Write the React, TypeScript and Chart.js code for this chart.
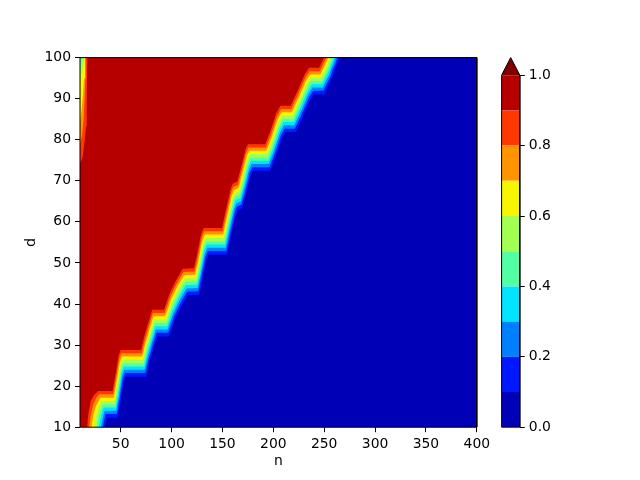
import React, { useEffect, useRef } from "react";
import { Chart, registerables } from "chart.js";

Chart.register(...registerables);

// ---------------- data ----------------
const xTicks = [50, 100, 150, 200, 250, 300, 350, 400];
const yTicks = [10, 20, 30, 40, 50, 60, 70, 80, 90, 100];
const cbTicks = [0.0, 0.2, 0.4, 0.6, 0.8, 1.0];
const levels = [0, 0.1, 0.2, 0.3, 0.4, 0.5, 0.6, 0.7, 0.8, 0.9, 1.0];
// jet colours of the filled bands 0-0.1 ... 0.9-1.0
const bandColors = [
  "#0000b6", "#0018ff", "#0080ff", "#00e4ff", "#53ffa4",
  "#a4ff53", "#f8f500", "#ff9400", "#ff3800", "#b60000",
];
const overColor = "#800000";

// staircase of the 0.9 contour (n, d), from the end of the first plateau onwards
const stairN = [42, 45, 48, 50, 70, 73, 79, 81, 92.5, 98, 104, 111, 122, 125, 129, 131.5,
  149.5, 153, 158, 160, 164.5, 168, 172.5, 175, 192, 197, 203, 207, 217, 224, 231, 235,
  245, 251, 258, 262, 290];
const stairD = [18.8, 23, 27.5, 28.8, 28.8, 32, 37, 38.6, 38.6, 42.5, 45.6, 48.6, 48.7, 52, 57, 58.5,
  58.5, 62.5, 68, 69.3, 69.8, 73, 77.5, 78.9, 78.9, 82, 86.5, 88.3, 88.3, 92, 96, 97.5,
  97.5, 100.5, 105, 107.5, 107.5];

// contour levels and how far each lies below (d) and right (n) of the 0.9 contour
const contourLevels = [0.9, 0.8, 0.7, 0.6, 0.5, 0.4, 0.3, 0.2, 0.1];
const levelDrop = [0, 0.8, 1.6, 2.4, 3.2, 4.0, 4.8, 5.6, 6.5];
const levelShift = [0, 0.6, 1.2, 1.8, 2.4, 3.0, 3.6, 4.2, 5.0];

// lower-left foot of every contour, from d = 10 up to the first plateau
const footN = [
  [17, 18.2, 20.5, 24, 28],
  [19, 20.5, 23, 26, 29],
  [21.5, 23, 25.5, 30],
  [24, 25.5, 28, 31],
  [26.5, 28, 30.5, 32],
  [28.5, 30, 33],
  [30.5, 32, 34],
  [32.5, 33.5, 35],
  [34.5, 35.5, 36],
];
const footD = [
  [10, 13.3, 16.4, 17.9, 18.8],
  [10, 13, 15.6, 17.2, 18.0],
  [10, 12.8, 15, 17.2],
  [10, 12.5, 14.8, 16.4],
  [10, 12.3, 14.4, 15.6],
  [10, 12, 14.8],
  [10, 11.8, 14.0],
  [10, 11.5, 13.2],
  [10, 11.2, 12.3],
];

// patches at the upper-left edge (n near 10, large d) where the value falls below a level
const edgeLevels = [0.9, 0.8, 0.7, 0.6, 0.5];
const edgeN = [
  [10, 12.3, 13.2, 14.9, 15.9, 16.6, 17.2, 10],
  [10, 12, 13.5, 14.5, 15.2, 15.6, 10],
  [10, 11.5, 13, 14, 14.9, 10],
  [10, 11.5, 13, 13.9, 10],
  [10, 11.5, 12.3, 10],
];
const edgeD = [
  [74.3, 75.5, 77, 80.4, 83.2, 88.9, 100, 100],
  [79, 81, 85, 90, 95, 100, 100],
  [84.4, 87, 91, 95, 100, 100],
  [94.5, 96, 98, 100, 100],
  [97.5, 99, 100, 100],
];

// ---------------- helpers ----------------
type P = { x: number; y: number };
const pts = (ns: number[], ds: number[]): P[] => ns.map((n, i) => ({ x: n, y: ds[i] }));

function area(data: P[], color: string, order: number) {
  return {
    data,
    backgroundColor: color,
    borderColor: "rgba(0,0,0,0)",
    borderWidth: 0,
    pointRadius: 0,
    fill: "shape",
    tension: 0,
    order,
  };
}

const FONT = { family: "DejaVu Sans", size: 13.9 };

export default function App() {
  const mainRef = useRef<HTMLCanvasElement>(null);
  const barRef = useRef<HTMLCanvasElement>(null);

  useEffect(() => {
    Chart.defaults.color = "#000";
    Chart.defaults.font.family = "DejaVu Sans";

    // ----- main contour plot -----
    const datasets: any[] = [];
    // whole plot area: top band 0.9-1.0
    datasets.push(area(pts([10, 10, 400, 400], [10, 100, 100, 10]), bandColors[9], 200));

    contourLevels.forEach((lv, i) => {
      const color = bandColors[Math.round(lv * 10) - 1];
      const drop = levelDrop[i];
      const shift = levelShift[i];
      const poly: P[] = [
        ...pts(footN[i], footD[i]),
        ...pts(stairN.map((n) => n + shift), stairD.map((d) => d - drop)),
      ];
      const last = stairD[stairD.length - 1] - drop;
      poly.push({ x: 400, y: last }, { x: 400, y: 10 });
      datasets.push(area(poly, color, Math.round(lv * 100)));
    });

    edgeLevels.forEach((lv, i) => {
      const color = bandColors[Math.round(lv * 10) - 1];
      datasets.push(area(pts(edgeN[i], edgeD[i]), color, Math.round(lv * 100) + 1));
    });

    // frame (spines)
    datasets.push({
      data: pts([10, 10, 400, 400, 10], [10, 100, 100, 10, 10]),
      borderColor: "#000",
      borderWidth: 1,
      fill: false,
      pointRadius: 0,
      tension: 0,
      clip: false,
      order: 0,
    });

    const gridOpts = {
      display: true,
      drawOnChartArea: false,
      drawTicks: true,
      tickLength: 5,
      color: "#000",
      lineWidth: 1,
    };

    const main = new Chart(mainRef.current!, {
      type: "line",
      data: { datasets },
      options: {
        responsive: false,
        animation: false,
        events: [],
        layout: { padding: { left: 0, top: 57.6, right: 163.2, bottom: 0 } },
        plugins: { legend: { display: false }, tooltip: { enabled: false } },
        elements: { point: { radius: 0 } },
        scales: {
          x: {
            type: "linear",
            min: 10,
            max: 400,
            afterBuildTicks: (s: any) => {
              s.ticks = xTicks.map((v) => ({ value: v }));
            },
            afterFit: (s: any) => {
              s.height = 52.8;
            },
            ticks: { font: FONT, color: "#000", padding: 4, maxRotation: 0, autoSkip: false, callback: (v: any) => String(v) },
            grid: gridOpts,
            border: { display: false },
            title: { display: true, text: "n", font: FONT, color: "#000", padding: { top: 0, bottom: 10.7 } },
          },
          y: {
            type: "linear",
            min: 10,
            max: 100,
            afterBuildTicks: (s: any) => {
              s.ticks = yTicks.map((v) => ({ value: v }));
            },
            afterFit: (s: any) => {
              s.width = 80;
            },
            ticks: { font: FONT, color: "#000", padding: 4, autoSkip: false, callback: (v: any) => String(v) },
            grid: gridOpts,
            border: { display: false },
            title: { display: true, text: "d", font: FONT, color: "#000", padding: { top: 23.2, bottom: 0 } },
          },
        },
      } as any,
    });

    // ----- colour bar -----
    const cbTop = 1.05;
    const cbSets: any[] = [];
    for (let i = 0; i < 10; i++) {
      cbSets.push(
        area(pts([0, 0, 1, 1], [levels[i], levels[i + 1], levels[i + 1], levels[i]]), bandColors[i], 50)
      );
    }
    cbSets.push(area(pts([0, 0.5, 1], [1, cbTop, 1]), overColor, 50));
    cbSets.push({
      data: pts([0, 0, 0.5, 1, 1, 0], [0, 1, cbTop, 1, 0, 0]),
      borderColor: "#000",
      borderWidth: 1,
      fill: false,
      pointRadius: 0,
      tension: 0,
      clip: false,
      order: 0,
    });

    const bar = new Chart(barRef.current!, {
      type: "line",
      data: { datasets: cbSets },
      options: {
        responsive: false,
        animation: false,
        events: [],
        layout: { padding: { left: 21.6, top: 57.6, right: 0, bottom: 52.8 } },
        plugins: { legend: { display: false }, tooltip: { enabled: false } },
        elements: { point: { radius: 0 } },
        scales: {
          x: { type: "linear", min: 0, max: 1, display: false },
          y: {
            type: "linear",
            position: "right",
            min: 0,
            max: cbTop,
            afterBuildTicks: (s: any) => {
              s.ticks = cbTicks.map((v) => ({ value: v }));
            },
            afterFit: (s: any) => {
              s.width = 120.2;
            },
            ticks: { font: FONT, color: "#000", padding: 4, autoSkip: false, callback: (v: any) => Number(v).toFixed(1) },
            grid: gridOpts,
            border: { display: false },
          },
        },
      } as any,
    });

    return () => {
      main.destroy();
      bar.destroy();
    };
  }, []);

  return (
    <div style={{ position: "absolute", left: 0, top: 0, width: 640, height: 480, background: "#fff" }}>
      <canvas ref={mainRef} width={640} height={480} style={{ position: "absolute", left: 0, top: 0 }} />
      <canvas ref={barRef} width={160} height={480} style={{ position: "absolute", left: 480, top: 0 }} />
    </div>
  );
}
